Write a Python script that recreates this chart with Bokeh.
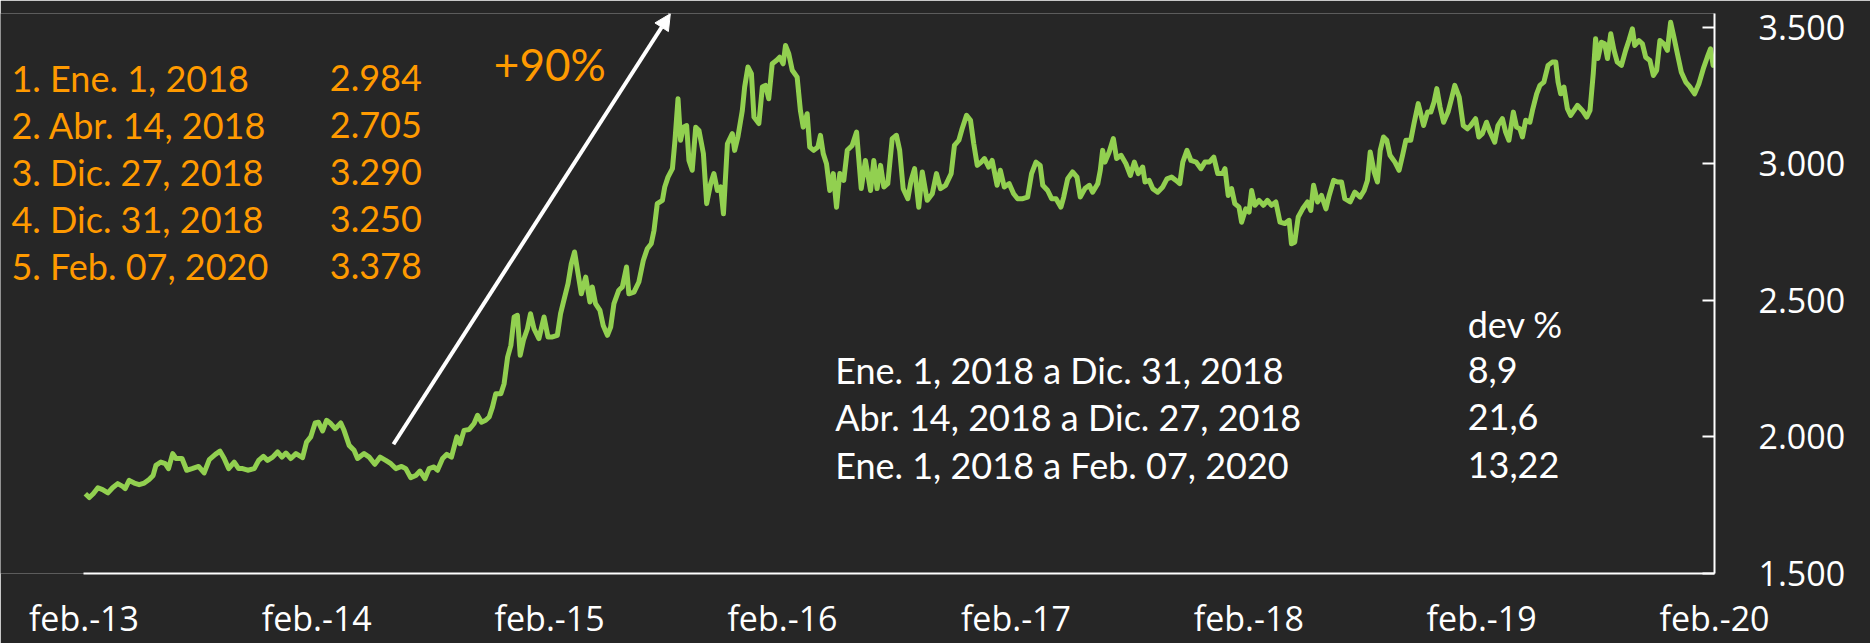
import pandas as pd
from bokeh.plotting import figure
from bokeh.models import Range1d, FixedTicker, Label, Arrow, NormalHead, ColumnDataSource
from bokeh.embed import file_html
from bokeh.resources import INLINE

# ---------------- data (decimal year, price) ----------------
years = [
    2013.091, 2013.108, 2013.125, 2013.145, 2013.165, 2013.188, 2013.208, 2013.230, 2013.251, 2013.262,
    2013.279, 2013.301, 2013.322, 2013.344, 2013.365, 2013.382, 2013.394, 2013.415, 2013.434, 2013.448,
    2013.466, 2013.480, 2013.506, 2013.526, 2013.549, 2013.577, 2013.601, 2013.623, 2013.649, 2013.669,
    2013.687, 2013.706, 2013.730, 2013.749, 2013.766, 2013.788, 2013.816, 2013.835, 2013.855, 2013.873,
    2013.895, 2013.916, 2013.935, 2013.952, 2013.973, 2013.995, 2014.024, 2014.041, 2014.059, 2014.078,
    2014.092, 2014.110, 2014.127, 2014.145, 2014.164,
    2014.188, 2014.202, 2014.224, 2014.245, 2014.260, 2014.288, 2014.310, 2014.334, 2014.357, 2014.381,
    2014.403, 2014.424, 2014.449, 2014.467, 2014.488, 2014.510, 2014.528, 2014.549, 2014.567, 2014.588,
    2014.603, 2014.625, 2014.643, 2014.663, 2014.686, 2014.700, 2014.717, 2014.739, 2014.760, 2014.775,
    2014.792, 2014.810, 2014.825, 2014.839, 2014.853, 2014.875, 2014.889, 2014.904, 2014.918, 2014.932,
    2014.946, 2014.958, 2014.972, 2014.989, 2015.003, 2015.018, 2015.039, 2015.061, 2015.078, 2015.097,
    2015.118, 2015.132, 2015.146, 2015.164, 2015.178, 2015.192, 2015.207, 2015.221, 2015.240, 2015.258,
    2015.268, 2015.282, 2015.301, 2015.315, 2015.333, 2015.347, 2015.361, 2015.382, 2015.397, 2015.415,
    2015.425, 2015.447, 2015.468, 2015.487, 2015.504, 2015.521, 2015.533, 2015.547, 2015.569, 2015.579,
    2015.593, 2015.612, 2015.623, 2015.636, 2015.647, 2015.659, 2015.673, 2015.683, 2015.697, 2015.712,
    2015.726, 2015.745, 2015.759, 2015.776, 2015.790, 2015.805, 2015.819, 2015.831, 2015.848, 2015.869,
    2015.879, 2015.893, 2015.912, 2015.922, 2015.936, 2015.951, 2015.962, 2015.983, 2015.998, 2016.012,
    2016.026, 2016.041, 2016.059, 2016.073, 2016.088, 2016.098, 2016.112, 2016.127, 2016.148, 2016.162,
    2016.174, 2016.191, 2016.202, 2016.219, 2016.237, 2016.248, 2016.260, 2016.274, 2016.288, 2016.303,
    2016.317, 2016.331,
    2016.348, 2016.363, 2016.384, 2016.403, 2016.423, 2016.441, 2016.463, 2016.477, 2016.491, 2016.506,
    2016.520, 2016.537, 2016.556, 2016.574, 2016.588, 2016.603, 2016.623, 2016.637, 2016.652, 2016.670,
    2016.685, 2016.706, 2016.728, 2016.746, 2016.763, 2016.785, 2016.809, 2016.823, 2016.842, 2016.856,
    2016.875, 2016.892, 2016.906, 2016.921, 2016.938, 2016.952, 2016.970, 2016.985, 2017.004, 2017.018,
    2017.035, 2017.056, 2017.075, 2017.092, 2017.114, 2017.135, 2017.152, 2017.171, 2017.189, 2017.200,
    2017.221, 2017.238, 2017.257, 2017.278, 2017.290, 2017.307, 2017.328, 2017.347, 2017.361, 2017.381,
    2017.400,
    2017.414, 2017.436, 2017.447, 2017.457, 2017.467, 2017.485, 2017.503, 2017.517, 2017.536, 2017.557,
    2017.576, 2017.593, 2017.610, 2017.629, 2017.639, 2017.657, 2017.672, 2017.693, 2017.715, 2017.733,
    2017.753, 2017.772, 2017.788, 2017.801, 2017.819, 2017.836, 2017.858, 2017.879, 2017.896, 2017.915,
    2017.934, 2017.951, 2017.972, 2017.982, 2017.996, 2018.011, 2018.025, 2018.043, 2018.054, 2018.072,
    2018.086, 2018.097, 2018.111, 2018.129, 2018.148, 2018.165, 2018.182, 2018.201, 2018.219, 2018.240,
    2018.258, 2018.268, 2018.282, 2018.297, 2018.316, 2018.337, 2018.351, 2018.363, 2018.380, 2018.397,
    2018.416, 2018.430, 2018.449, 2018.466,
    2018.483, 2018.497, 2018.520, 2018.540, 2018.563, 2018.580, 2018.594, 2018.606, 2018.623, 2018.637,
    2018.649, 2018.663, 2018.677, 2018.691, 2018.712, 2018.730, 2018.745, 2018.759, 2018.780, 2018.794,
    2018.812, 2018.823, 2018.835, 2018.852, 2018.866, 2018.880, 2018.892, 2018.906, 2018.921, 2018.940,
    2018.955, 2018.969, 2018.988, 2019.006, 2019.024, 2019.038, 2019.059, 2019.073, 2019.088, 2019.106,
    2019.121, 2019.141, 2019.155, 2019.174, 2019.188, 2019.202, 2019.221, 2019.235, 2019.249, 2019.260,
    2019.274, 2019.292, 2019.303, 2019.321, 2019.335, 2019.352, 2019.370, 2019.388, 2019.403, 2019.413,
    2019.424, 2019.438, 2019.453, 2019.467,
    2019.496, 2019.517, 2019.536, 2019.550, 2019.564, 2019.574, 2019.584, 2019.599, 2019.613, 2019.625,
    2019.639, 2019.653, 2019.667, 2019.685, 2019.703, 2019.717, 2019.732, 2019.742, 2019.760, 2019.775,
    2019.789, 2019.807, 2019.822, 2019.836, 2019.850, 2019.867, 2019.882, 2019.896, 2019.910, 2019.925,
    2019.942, 2019.961, 2019.979, 2019.999, 2020.018, 2020.037, 2020.054, 2020.068, 2020.079, 2020.085,
]
values = [
    1792, 1778, 1792, 1814, 1807, 1795, 1814, 1829, 1819, 1811,
    1841, 1831, 1825, 1831, 1844, 1859, 1896, 1908, 1902, 1884,
    1939, 1921, 1921, 1878, 1884, 1892, 1868, 1917, 1936, 1948,
    1921, 1884, 1908, 1884, 1884, 1878, 1884, 1914, 1929, 1914,
    1926, 1945, 1926, 1941, 1921, 1939, 1924, 1981, 2000, 2051,
    2054, 2022, 2061, 2049, 2030,
    2051, 2024, 1969, 1951, 1921, 1939, 1926, 1900, 1926, 1914,
    1902, 1884, 1892, 1884, 1851, 1859, 1875, 1847, 1884, 1890,
    1878, 1921, 1936, 1926, 2000, 1975, 2024, 2027, 2049, 2079,
    2054, 2061, 2073, 2109, 2158, 2158, 2195, 2292, 2335, 2439,
    2445, 2299, 2354, 2396, 2451, 2396, 2360, 2439, 2366, 2366,
    2372, 2451, 2500, 2561, 2634, 2677, 2598, 2524, 2585, 2494,
    2549, 2488, 2463, 2408, 2372, 2402, 2488, 2537, 2549, 2622,
    2524, 2530, 2567, 2646, 2689, 2707, 2756, 2854, 2866, 2915,
    2951, 2982, 3086, 3238, 3086, 3134, 3140, 3012, 2976, 3134,
    3122, 3037, 2854, 2927, 2964, 2902, 2915, 2817, 3073, 3110,
    3049, 3098, 3195, 3281, 3354, 3330, 3171, 3147, 3281, 3287,
    3238, 3366, 3378, 3390, 3366, 3433, 3403, 3342, 3317, 3195,
    3134, 3183, 3061, 3049, 3061, 3104, 3037, 3000, 2902, 2964,
    2841, 2964,
    2939, 3049, 3067, 3116, 2909, 3012, 2902, 3012, 2909, 2994,
    2915, 2927, 3092, 3104, 3049, 2909, 2872, 2939, 2982, 2841,
    2970, 2866, 2890, 2964, 2909, 2921, 2964, 3067, 3086, 3128,
    3177, 3159, 3073, 2994, 3006, 3019, 2988, 3012, 2921, 2976,
    2915, 2927, 2890, 2872, 2872, 2878, 2964, 3006, 2994, 2921,
    2902, 2872, 2872, 2841, 2878, 2945, 2970, 2951, 2878, 2909,
    2921,
    2896, 2927, 2976, 3049, 3006, 3043, 3092, 3019, 3031, 3000,
    2957, 3006, 2964, 2988, 2933, 2939, 2909, 2896, 2915, 2945,
    2951, 2939, 2927, 3006, 3049, 3012, 3006, 2982, 3006, 3006,
    3024, 2964, 2964, 2982, 2884, 2909, 2854, 2841, 2786, 2835,
    2823, 2902, 2848, 2866, 2848, 2866, 2848, 2860, 2786, 2781,
    2793, 2707, 2713, 2805, 2835, 2860, 2829, 2921, 2860, 2884,
    2835, 2884, 2939, 2933,
    2933, 2872, 2860, 2896, 2878, 2902, 2939, 3043, 2970, 2933,
    3049, 3098, 3086, 3031, 3006, 2976, 3031, 3086, 3086, 3147,
    3220, 3183, 3140, 3189, 3189, 3226, 3275, 3207, 3152, 3189,
    3238, 3287, 3244, 3140, 3128, 3140, 3165, 3098, 3110, 3152,
    3116, 3079, 3140, 3165, 3116, 3086, 3189, 3134, 3128, 3098,
    3159, 3152, 3195, 3256, 3287, 3299, 3360, 3372, 3372, 3299,
    3256, 3281, 3202, 3177,
    3214, 3195, 3171, 3195, 3330, 3458, 3385, 3445, 3439, 3385,
    3476, 3415, 3372, 3360, 3415, 3451, 3494, 3433, 3451, 3439,
    3390, 3378, 3323, 3342, 3451, 3439, 3415, 3518, 3464, 3403,
    3335, 3299, 3281, 3256, 3293, 3348, 3390, 3421, 3360, 3378,
]

view_start_year = 2012.729          # left edge of the drawing area (text block lives there)
axis_start_year, axis_end_year = 2013.085, 2020.085
x_tick_years = [2013.085, 2014.085, 2015.085, 2016.085, 2017.085, 2018.085, 2019.085, 2020.085]
x_tick_labels = ["feb.-13", "feb.-14", "feb.-15", "feb.-16", "feb.-17", "feb.-18", "feb.-19", "feb.-20"]
y_min, y_max = 1500, 3550
y_ticks = [1500, 2000, 2500, 3000, 3500]
y_tick_labels = ["1.500", "2.000", "2.500", "3.000", "3.500"]

list_names = ["1. Ene. 1, 2018", "2. Abr. 14, 2018", "3. Dic. 27, 2018", "4. Dic. 31, 2018", "5. Feb. 07, 2020"]
list_values = ["2.984", "2.705", "3.290", "3.250", "3.378"]
list_name_x, list_value_x = 2012.776, 2014.141
list_y = [3314, 3142, 2969, 2797, 2625]

dev_header = "dev %"
dev_periods = ["Ene. 1, 2018 a Dic. 31, 2018", "Abr. 14, 2018 a Dic. 27, 2018", "Ene. 1, 2018 a Feb. 07, 2020"]
dev_values = ["8,9", "21,6", "13,22"]
dev_period_x, dev_value_x = 2016.311, 2019.025
dev_header_y = 2414
dev_y = [2244, 2072, 1898]

gain_text = "+90%"
gain_pos = (2014.845, 3364)
arrow_from = (2014.414, 1973)
arrow_to = (2015.603, 3549)

# ---------------- helpers ----------------
def to_dt(d):
    y = int(d)
    return pd.Timestamp(year=y, month=1, day=1) + pd.Timedelta(days=(d - y) * 365.25)

def to_ms(d):
    return float(to_dt(d).value // 10**6)

BG = "#262626"
GREEN = "#92D050"
ORANGE = "#FF9A00"
WHITE = "#FFFFFF"

src = ColumnDataSource(dict(date=[to_dt(d) for d in years], value=values))

p = figure(
    width=1870, height=643,
    x_axis_type="datetime",
    x_range=Range1d(to_ms(view_start_year), to_ms(axis_end_year)),
    y_range=Range1d(y_min, y_max),
    y_axis_location="right",
    output_backend="svg", toolbar_location=None,
    min_border_left=0, min_border_right=156, min_border_top=13, min_border_bottom=70,
    background_fill_color=BG, border_fill_color=BG, outline_line_color=None,
)
p.xgrid.visible = False
p.ygrid.visible = False

p.line(x="date", y="value", source=src, line_color=GREEN, line_width=5, line_join="round")

# x axis
x_ticks_ms = [to_ms(d) for d in x_tick_years]
xa = p.xaxis[0]
xa.bounds = (to_ms(axis_start_year), to_ms(axis_end_year))
xa.ticker = FixedTicker(ticks=x_ticks_ms)
xa.major_label_overrides = {t: l for t, l in zip(x_ticks_ms, x_tick_labels)}
xa.axis_line_color = WHITE
xa.axis_line_width = 2
xa.major_tick_line_color = None
xa.minor_tick_line_color = None
xa.major_label_text_color = WHITE
xa.major_label_text_font = "Open Sans"
xa.major_label_text_font_size = "34px"
xa.major_label_standoff = 15

# y axis (right)
ya = p.yaxis[0]
ya.ticker = FixedTicker(ticks=y_ticks)
ya.major_label_overrides = {t: l for t, l in zip(y_ticks, y_tick_labels)}
ya.axis_line_color = WHITE
ya.axis_line_width = 2
ya.major_tick_line_color = WHITE
ya.major_tick_line_width = 2
ya.major_tick_in = 12
ya.major_tick_out = 0
ya.minor_tick_line_color = None
ya.major_label_text_color = WHITE
ya.major_label_text_font = "Open Sans"
ya.major_label_text_font_size = "34px"
ya.major_label_standoff = 44

# arrow
p.add_layout(Arrow(
    end=NormalHead(size=16, fill_color=WHITE, line_color=WHITE, line_width=1),
    x_start=to_ms(arrow_from[0]), y_start=arrow_from[1],
    x_end=to_ms(arrow_to[0]), y_end=arrow_to[1],
    line_color=WHITE, line_width=4,
))

def add_text(txt, xd, yv, color, size="36px", font="Lato"):
    p.add_layout(Label(x=to_ms(xd), y=yv, text=txt, text_color=color, text_font=font,
                       text_font_size=size, text_baseline="alphabetic", text_align="left"))

add_text(gain_text, gain_pos[0], gain_pos[1], ORANGE, size="44px")
for name, val, yv in zip(list_names, list_values, list_y):
    add_text(name, list_name_x, yv, ORANGE)
    add_text(val, list_value_x, yv, ORANGE)

add_text(dev_header, dev_value_x, dev_header_y, WHITE)
for per, val, yv in zip(dev_periods, dev_values, dev_y):
    add_text(per, dev_period_x, yv, WHITE)
    add_text(val, dev_value_x, yv, WHITE)

open("out.html", "w").write(file_html(p, INLINE))
